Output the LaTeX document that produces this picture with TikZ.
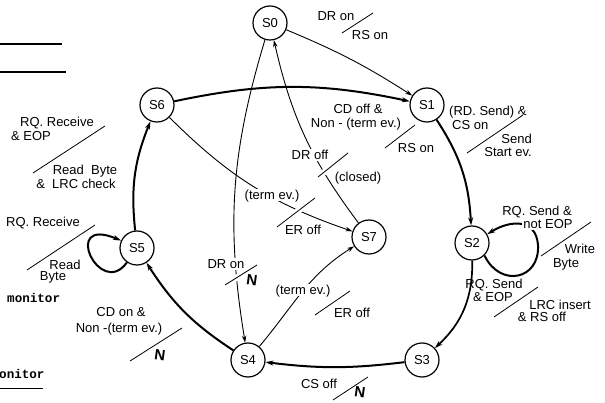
\documentclass[tikz,border=0pt]{standalone}
\usepackage{fontspec}
\setmainfont{Liberation Sans}
\newfontfamily\typefont{Liberation Mono}
\usetikzlibrary{arrows.meta}
\begin{document}
\begin{tikzpicture}[x=1pt,y=1pt,
  lbl/.style={font=\fontsize{13}{13}\selectfont, inner sep=0pt, text height=9.3pt, text depth=0pt},
  lblw/.style={lbl, fill=white, inner sep=1.5pt},
  state/.style={circle, draw, line width=1.2pt, minimum size=34pt, inner sep=0pt,
                font=\fontsize{13}{13}\selectfont},
  thin edge/.style={line width=0.9pt, -{Stealth[length=7pt,width=4.5pt]}},
  thick edge/.style={line width=2pt, -{Stealth[length=8pt,width=5pt]}},
  slash/.style={line width=0.8pt, preaction={draw=white, line width=6pt}},
  nmark/.style={font=\bfseries\fontsize{15}{15}\selectfont, inner sep=0pt},
  mono/.style={font=\typefont\bfseries\fontsize{12.6}{12.6}\selectfont, inner sep=0pt, anchor=base west}
]
\useasboundingbox[fill=white] (0,0) rectangle (605,-403);

% fragments of the neighbouring listing
\draw[line width=1.6pt] (0,-44) -- (62,-44);
\draw[line width=1.6pt] (0,-72) -- (66,-72);
\node[mono] (mon1) at (7,-303) {monitor};
\node[mono] (mon2) at (-1,-378) {onitor};
\draw[line width=1pt] (0,-388) -- (43,-388);

% states
\node[state] (s0) at (270,-23)  {S0};
\node[state] (s1) at (427,-105) {S1};
\node[state] (s2) at (472,-243) {S2};
\node[state] (s3) at (422,-360) {S3};
\node[state] (s4) at (248,-360) {S4};
\node[state] (s5) at (137,-248) {S5};
\node[state] (s6) at (157,-105) {S6};
\node[state] (s7) at (369,-237) {S7};

% main cycle
\draw[thick edge] (s6) to[bend left=12] (s1);
\draw[thick edge] (s1) to[bend left=15] (s2);
\draw[thick edge, line width=1.7pt] (s2) to[bend left=24] (s3);
\draw[thick edge] (s3) to[bend left=7] (s4);
\draw[thick edge] (s4) to[bend left=12] (s5);
\draw[thick edge] (s5) to[bend left=14] (s6);

% other transitions
\draw[thin edge] (s0) to[bend left=5] (s1);
\draw[thin edge] (s0) to[bend right=13] (s4);
\draw[thin edge] (s7) to[bend left=12] (s0);
\draw[thin edge] (s6) to[bend right=13] (s7);
\draw[thin edge] (s4) to[out=50,in=212] (s7);

% self loops
\draw[thick edge] (s5.235) .. controls (100,-300) and (60,-215) .. (s5.155);
\draw[thick edge] (s2.-45) .. controls (500,-288) and (540,-280) .. (538,-245)
                 .. controls (536,-218) and (510,-220) .. (s2.30);

% S0 -> S1
\node[lbl] (l01a) at (336,-16) {DR on};
\draw[slash] (342,-33) -- (373,-13);
\node[lbl] (l01b) at (370,-35) {RS on};

% S6 -> S1
\node[lbl] (l61a) at (358,-109) {CD off \&};
\node[lbl] (l61b) at (356,-123) {Non - (term ev.)};
\draw[slash] (385,-148) -- (415,-125);
\node[lbl] (l61c) at (416,-148) {RS on};

% S1 -> S2
\node[lbl, anchor=west] (l12a) at (449,-111) {(RD. Send) \&};
\node[lbl, anchor=west] (l12b) at (452,-125) {CS on};
\draw[slash] (467,-153) -- (523,-115);
\node[lbl, anchor=east] (l12c) at (532,-139) {Send};
\node[lbl, anchor=east] (l12d) at (532,-152) {Start ev.};

% S2 loop
\node[lbl] (l22a) at (537,-211) {RQ. Send \&};
\node[lblw] (l22b) at (548,-224) {not EOP};
\draw[slash] (541,-256) -- (591,-222);
\node[lbl] (l22c) at (580,-249) {Write};
\node[lbl] (l22d) at (566,-263) {Byte};

% S2 -> S3
\node[lbl] (l23a) at (494,-284) {RQ. Send};
\node[lbl] (l23b) at (493,-297) {\& EOP};
\draw[slash] (494,-317) -- (538,-287);
\node[lbl] (l23c) at (560,-305) {LRC insert};
\node[lbl] (l23d) at (542,-317) {\& RS off};

% S3 -> S4
\node[lbl] (l34a) at (319,-384) {CS off};
\draw[slash] (333,-400) -- (368,-377);
\node[nmark, rotate=-8] (l34n) at (360,-392) {N};

% S0 -> S4
\node[lblw] (l04a) at (226,-264) {DR on};
\draw[slash] (225,-285) -- (257,-265);
\node[nmark, rotate=-8] (l04n) at (252,-280) {N};

% S4 -> S7
\node[lblw] (l47a) at (303,-290) {(term ev.)};
\draw[slash] (315,-315) -- (350,-291);
\node[lbl] (l47b) at (352,-313) {ER off};

% S6 -> S7
\node[lblw] (l67a) at (272,-195) {(term ev.)};
\draw[slash] (277,-227) -- (315,-198);
\node[lbl] (l67b) at (303,-230) {ER off};

% S7 -> S0
\node[lblw] (l70a) at (310,-155) {DR off};
\draw[slash] (318,-177) -- (348,-153);
\node[lblw] (l70b) at (358,-177) {(closed)};

% S5 -> S6
\node[lbl] (l56a) at (57,-122) {RQ. Receive};
\node[lbl] (l56b) at (31,-136) {\& EOP};
\draw[slash] (33,-173) -- (105,-126);
\node[lbl] (l56c) at (85,-170) {Read\ \ Byte};
\node[lbl] (l56d) at (76,-184) {\&\ \ LRC check};

% S5 loop
\node[lbl] (l55a) at (43,-222) {RQ. Receive};
\draw[slash] (27,-270) -- (95,-225);
\node[lbl] (l55b) at (65,-265) {Read};
\node[lbl] (l55c) at (53,-276) {Byte};

% S4 -> S5
\node[lbl] (l45a) at (121,-312) {CD on \&};
\node[lbl] (l45b) at (119,-328) {Non -(term ev.)};
\draw[slash] (130,-361) -- (182,-328);
\node[nmark, rotate=-8] (l45n) at (160,-355) {N};
\end{tikzpicture}
\end{document}
